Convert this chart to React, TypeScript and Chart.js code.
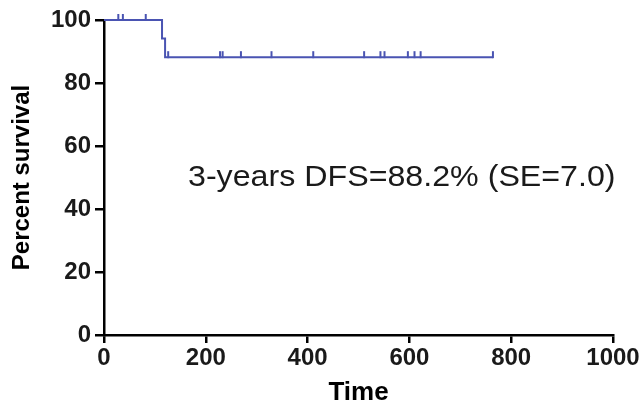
import React, { useEffect, useRef } from "react";
import { Chart, registerables } from "chart.js";

Chart.register(...registerables);

// Kaplan–Meier step curve (time in days, survival in %)
const stepTimes = [0, 114, 120, 764];
const stepSurvival = [100, 94.1, 88.2, 88.2];

// Censored observations
const censorTimes = [28, 37, 82, 126, 228, 233, 269, 329, 411, 511, 543, 551, 597, 610, 622, 764];
const censorSurvival = [100, 100, 100, 88.2, 88.2, 88.2, 88.2, 88.2, 88.2, 88.2, 88.2, 88.2, 88.2, 88.2, 88.2, 88.2];

const xTicks = [0, 200, 400, 600, 800, 1000];
const yTicks = [0, 20, 40, 60, 80, 100];

const annotationText = "3-years DFS=88.2% (SE=7.0)";
const annotationAt = { x: 165, y: 50 };

const CURVE_COLOR = "#4a54b2";
const FONT = "'Liberation Sans', Arial, sans-serif";

function makeCensorMark(): HTMLCanvasElement {
  const c = document.createElement("canvas");
  c.width = 4;
  c.height = 14;
  const ctx = c.getContext("2d")!;
  ctx.fillStyle = CURVE_COLOR;
  ctx.fillRect(1, 1, 2, 7);
  return c;
}

const annotationPlugin = {
  id: "dfsLabel",
  afterDraw(chart: any) {
    const { ctx, scales } = chart;
    const px = scales.x.getPixelForValue(annotationAt.x);
    const py = scales.y.getPixelForValue(annotationAt.y);
    ctx.save();
    ctx.translate(px, py);
    ctx.scale(1.11, 1);
    ctx.font = `29px ${FONT}`;
    ctx.fillStyle = "#1a1a1a";
    ctx.textAlign = "left";
    ctx.textBaseline = "middle";
    ctx.fillText(annotationText, 0, 0);
    ctx.restore();
  },
};

export default function App() {
  const canvasRef = useRef<HTMLCanvasElement | null>(null);

  useEffect(() => {
    if (!canvasRef.current) return;
    const mark = makeCensorMark();
    const chart = new Chart(canvasRef.current, {
      type: "scatter",
      data: {
        datasets: [
          {
            type: "line",
            data: stepTimes.map((t, i) => ({ x: t, y: stepSurvival[i] })),
            stepped: "before",
            borderColor: CURVE_COLOR,
            borderWidth: 2,
            pointRadius: 0,
            fill: false,
            clip: false,
          },
          {
            type: "scatter",
            data: censorTimes.map((t, i) => ({ x: t, y: censorSurvival[i] })),
            pointStyle: mark,
            pointRadius: 5,
            backgroundColor: CURVE_COLOR,
            borderColor: CURVE_COLOR,
            clip: false,
          },
        ],
      },
      options: {
        animation: false,
        responsive: false,
        maintainAspectRatio: false,
        layout: { padding: { top: 20, right: 30, left: 8, bottom: 0 } },
        plugins: { legend: { display: false }, tooltip: { enabled: false } },
        scales: {
          x: {
            type: "linear",
            min: 0,
            max: 1000,
            afterBuildTicks: (s: any) => {
              s.ticks = xTicks.map((v) => ({ value: v }));
            },
            afterFit: (s: any) => {
              s.height = 70;
            },
            border: { display: true, color: "#000", width: 2.5 },
            grid: { display: true, drawOnChartArea: false, drawTicks: true, tickLength: 8, color: "#000", lineWidth: 2.5 },
            ticks: {
              color: "#1a1a1a",
              font: { family: FONT, size: 24, weight: "bold" },
              padding: 1,
              maxRotation: 0,
              callback: (v: any) => String(v),
            },
            title: { display: true, text: "Time", color: "#000", font: { family: FONT, size: 26, weight: "bold" }, padding: { top: 0, bottom: -3 } },
          },
          y: {
            type: "linear",
            min: 0,
            max: 100,
            afterBuildTicks: (s: any) => {
              s.ticks = yTicks.map((v) => ({ value: v }));
            },
            afterFit: (s: any) => {
              s.width = 96;
            },
            border: { display: true, color: "#000", width: 2.5 },
            grid: { display: true, drawOnChartArea: false, drawTicks: true, tickLength: 9, color: "#000", lineWidth: 2.5 },
            ticks: {
              color: "#1a1a1a",
              font: { family: FONT, size: 24, weight: "bold" },
              padding: 4,
              callback: (v: any) => String(v),
            },
            title: { display: true, text: "Percent survival", color: "#000", font: { family: FONT, size: 24, weight: "bold" }, padding: { top: 0, bottom: 4 } },
          },
        },
      },
      plugins: [annotationPlugin],
    });
    return () => chart.destroy();
  }, []);

  return (
    <div style={{ position: "fixed", left: 0, top: 0, width: 643, height: 405, background: "#fff" }}>
      <canvas ref={canvasRef} width={643} height={405} style={{ display: "block" }} />
    </div>
  );
}
